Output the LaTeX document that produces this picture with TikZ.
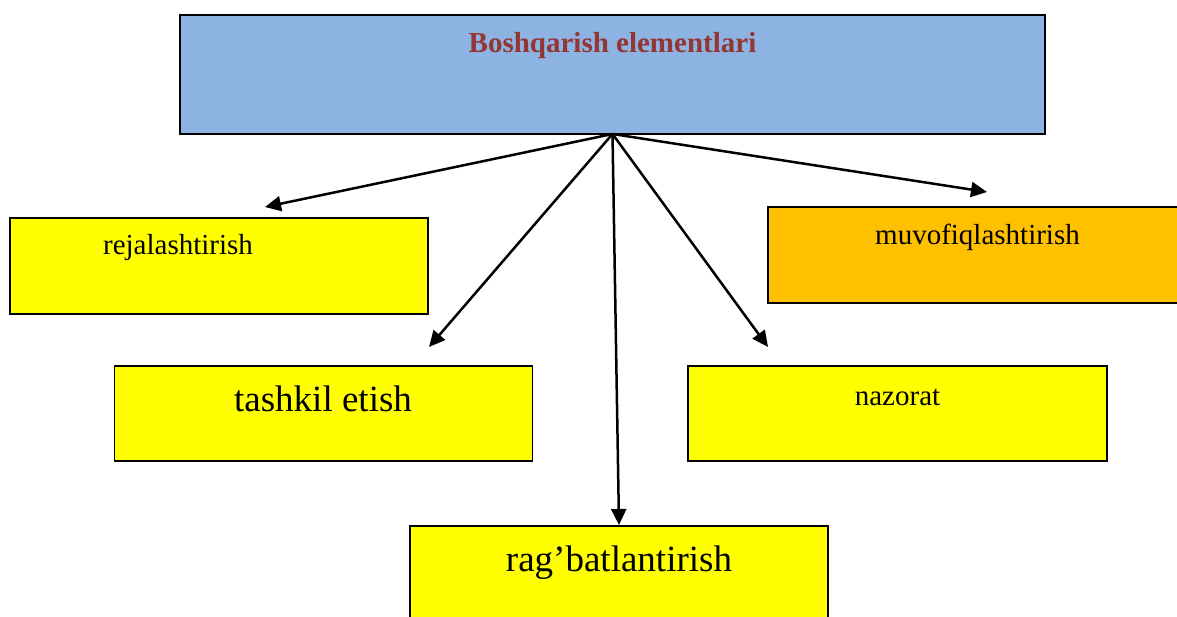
\documentclass[tikz,border=0pt]{standalone}
\usepackage{fontspec}
\setmainfont{Liberation Serif}
\usetikzlibrary{arrows.meta}
\definecolor{topblue}{HTML}{8DB3E2}
\definecolor{boxyellow}{HTML}{FFFF00}
\definecolor{boxorange}{HTML}{FFC000}
\definecolor{titlered}{HTML}{943634}
\begin{document}
\begin{tikzpicture}[x=1pt,y=-1pt,
  box/.style={draw=black,line width=1.8pt,rectangle,inner sep=0pt,outer sep=0pt},
  small/.style={anchor=base,inner sep=0pt,font=\fontsize{29}{34}\selectfont},
  large/.style={anchor=base,inner sep=0pt,font=\fontsize{37}{44}\selectfont},
  link/.style={line width=2.5pt,-{Triangle[length=16pt,width=15pt]}}]
\useasboundingbox (0,0) rectangle (1177,617);
% boxes, given by their corners
\node[box,fill=topblue,minimum width=865pt,minimum height=119pt] (top) at (612.5,74.5) {};
\node[box,fill=boxyellow,minimum width=418pt,minimum height=96pt] (plan) at (219,266) {};
\node[box,fill=boxorange,minimum width=420pt,minimum height=96pt] (coord) at (978,255) {};
\node[box,fill=boxyellow,minimum width=418pt,minimum height=95pt] (org) at (323.5,413.5) {};
\node[box,fill=boxyellow,minimum width=419pt,minimum height=95pt] (ctrl) at (897.5,413.5) {};
\node[box,fill=boxyellow,minimum width=418pt,minimum height=110pt] (motiv) at (619,581) {};
% labels
\node[anchor=base,inner sep=0pt,font=\fontsize{29}{34}\selectfont\bfseries,text=titlered] (ttl) at (612.5,53) {Boshqarish elementlari};
\node[small] (tplan) at (178,255) {rejalashtirish};
\node[small] (tcoord) at (977.5,245) {muvofiqlashtirish};
\node[large] (torg) at (323,411) {tashkil etish};
\node[small] (tctrl) at (897.5,405) {nazorat};
\node[large] (tmotiv) at (619,571) {rag’batlantirish};
% arrow tips
\coordinate (hplan) at (265,207);
\coordinate (horg) at (429,347);
\coordinate (hmotiv) at (619,525);
\coordinate (hctrl) at (768,347);
\coordinate (hcoord) at (987,192);
\draw[link] (top.south) -- (hplan);
\draw[link] (top.south) -- (horg);
\draw[link] (top.south) -- (hmotiv);
\draw[link] (top.south) -- (hctrl);
\draw[link] (top.south) -- (hcoord);
\end{tikzpicture}
\end{document}
